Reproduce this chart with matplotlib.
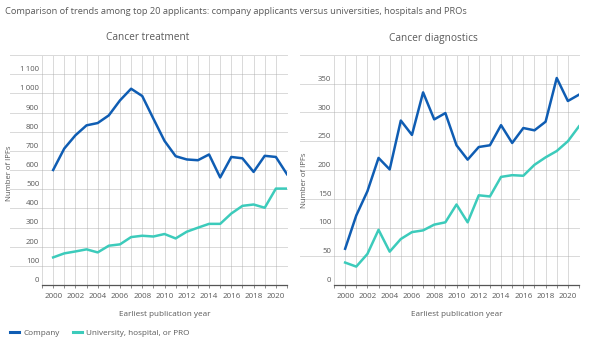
import matplotlib
matplotlib.use("Agg")
import matplotlib.pyplot as plt
import matplotlib.transforms as mtransforms

plt.rcParams['font.family'] = ['Open Sans', 'DejaVu Sans']

years = list(range(2000, 2022))

treat_company = [600, 712, 781, 833, 845, 885, 963, 1024, 986, 868, 752, 672,
                 655, 651, 681, 561, 668, 661, 590, 674, 668, 578]
treat_univ = [144, 165, 175, 186, 170, 205, 212, 250, 257, 253, 266, 243,
              278, 299, 319, 319, 373, 413, 420, 403, 503, 503]

diag_company = [63, 121, 163, 221, 201, 286, 261, 335, 288, 299, 243, 218,
                240, 243, 278, 247, 273, 269, 284, 360, 320, 331]
diag_univ = [39, 32, 54, 96, 58, 80, 92, 95, 105, 109, 140, 109,
             156, 154, 188, 191, 190, 209, 222, 233, 250, 276]

treat_yticks = [0, 100, 200, 300, 400, 500, 600, 700, 800, 900, 1000, 1100]
treat_ylabels = ["0", "100", "200", "300", "400", "500", "600", "700", "800",
                 "900", "1\u2009000", "1\u2009100"]
diag_yticks = [0, 50, 100, 150, 200, 250, 300, 350]
diag_ylabels = ["0", "50", "100", "150", "200", "250", "300", "350"]
xtick_labels = list(range(2000, 2021, 2))

series_names = ["Company", "University, hospital, or PRO"]
titles = ["Cancer treatment", "Cancer diagnostics"]
main_title = ("Comparison of trends among top 20 applicants: company applicants "
              "versus universities, hospitals and PROs")

C_COMP = "#0f5db3"
C_UNIV = "#3ccbbb"
TXT = "#5a5a5a"
GRID = "#a8a8a8"

W, H = 602, 342
fig = plt.figure(figsize=(W / 100, H / 100), dpi=100)

def px_rect(x0, y0, x1, y1):
    return [x0 / W, 1 - y1 / H, (x1 - x0) / W, (y1 - y0) / H]

axL = fig.add_axes(px_rect(42, 55, 287, 285))
axR = fig.add_axes(px_rect(334, 55, 579, 285))

def style(ax, comp, univ, yticks, ylabels, ytop, grid_ext, ylab_xy):
    ax.plot(years, comp, color=C_COMP, lw=1.8, solid_joinstyle='round', zorder=3)
    ax.plot(years, univ, color=C_UNIV, lw=1.8, solid_joinstyle='round', zorder=3)
    ax.set_xlim(1999, 2021)
    ax.set_ylim(0, ytop)
    for s in ['top', 'right', 'left']:
        ax.spines[s].set_visible(False)
    ax.spines['bottom'].set_color('#555555')
    ax.spines['bottom'].set_linewidth(0.9)
    ax.set_xticks(list(range(1999, 2022)))
    ax.set_xticklabels([str(y) if y in xtick_labels else "" for y in range(1999, 2022)])
    ax.tick_params(axis='x', length=2.5, width=0.6, color='#777777', pad=3,
                   labelsize=5.8, labelcolor=TXT)
    for y in range(1999, 2022):
        ax.axvline(y, color=GRID, lw=0.6, ls=(0, (1.2, 1.2)), zorder=1)
    hvals = [v for v in yticks if v > 0] + [ytop]
    ax.hlines(hvals, grid_ext, 1, transform=ax.get_yaxis_transform(),
              colors=GRID, lw=0.6, linestyles=(0, (1.2, 1.2)), clip_on=False, zorder=1)
    ax.set_yticks(yticks)
    ax.set_yticklabels(ylabels)
    ax.tick_params(axis='y', length=0, pad=2, labelsize=5.6, labelcolor=TXT)
    off = mtransforms.ScaledTranslation(0, 5.5 / 100, fig.dpi_scale_trans)
    for lab in ax.get_yticklabels():
        lab.set_transform(lab.get_transform() + off)
    ax.set_ylabel("Number of IPFs", fontsize=5.6, color=TXT)
    ax.yaxis.set_label_coords(*ylab_xy)
    ax.set_xlabel("Earliest publication year", fontsize=5.9, color=TXT, labelpad=8)

style(axL, treat_company, treat_univ, treat_yticks, treat_ylabels, 1200, -0.13,
      (-0.118, 0.487))
style(axR, diag_company, diag_univ, diag_yticks, diag_ylabels, 400, -0.14,
      (-0.106, 0.457))

fig.text(5 / W, 1 - 11 / H, main_title, fontsize=6.7, color=TXT, va='center', ha='left')
fig.text(148 / W, 1 - 38 / H, titles[0], fontsize=7.3, color=TXT, va='center', ha='center')
fig.text(433 / W, 1 - 38 / H, titles[1], fontsize=7.3, color=TXT, va='center', ha='center')

handles = [plt.Line2D([], [], color=C_COMP, lw=2.2),
           plt.Line2D([], [], color=C_UNIV, lw=2.2)]
fig.legend(handles, series_names, loc='center left', bbox_to_anchor=(10 / W, 1 - 333 / H),
           ncol=2, frameon=False, fontsize=5.9, handlelength=1.1, handletextpad=0.5,
           columnspacing=1.6, labelcolor=TXT, borderaxespad=0, borderpad=0)

fig.savefig("out.png", dpi=100, facecolor='white')
